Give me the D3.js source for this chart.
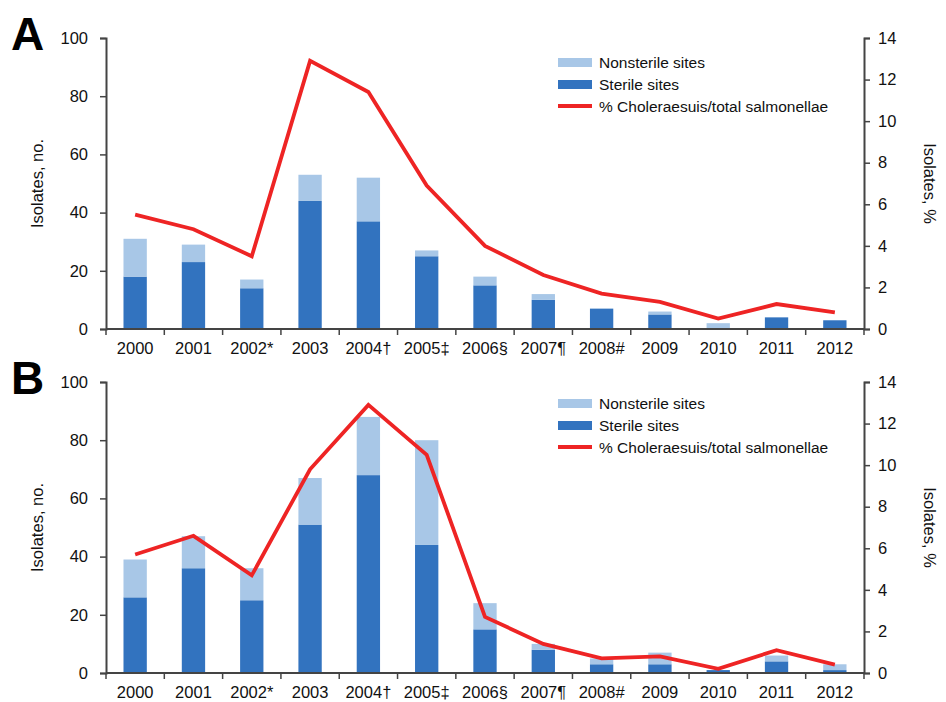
<!DOCTYPE html>
<html><head><meta charset="utf-8">
<script src="https://cdn.jsdelivr.net/npm/d3@7"></script>
<style>
body{margin:0;background:#fff;}
svg{display:block;font-family:"Liberation Sans",Arial,sans-serif;}
</style></head>
<body><svg id="c" width="946" height="702"></svg>
<script>
const categories = ["2000","2001","2002*","2003","2004\u2020","2005\u2021","2006\u00a7","2007\u00b6","2008#","2009","2010","2011","2012"];
const sterileA    = [18,23,14,44,37,25,15,10,7,5,0,4,3];
const nonsterileA = [13,6,3,9,15,2,3,2,0,1,2,0,0];
const pctA        = [5.5,4.8,3.5,12.9,11.4,6.9,4.0,2.6,1.7,1.3,0.5,1.2,0.8];
const sterileB    = [26,36,25,51,68,44,15,8,3,3,1,4,1];
const nonsterileB = [13,11,11,16,20,36,9,2,2,4,0,2,2];
const pctB        = [5.7,6.6,4.7,9.8,12.9,10.5,2.7,1.4,0.7,0.8,0.2,1.1,0.4];
const leftTicks  = [0,20,40,60,80,100];
const rightTicks = [0,2,4,6,8,10,12,14];
const legendLabels = ["Nonsterile sites","Sterile sites","% Choleraesuis/total salmonellae"];

const LIGHT = "#a8c7e7", DARK = "#3273bf", RED = "#ee2424", AX = "#444", TXT = "#111";
const svg = d3.select("#c");
const x = d3.scaleBand().domain(categories).range([106, 864]).padding(0);
const bw = x.bandwidth() * 0.4;

function panel(letter, top, bottom, sterile, nonsterile, pct, legTop, letterY) {
  const g = svg.append("g");
  const y = d3.scaleLinear().domain([0, 100]).range([bottom, top]);
  const y2 = d3.scaleLinear().domain([0, 14]).range([bottom, top]);

  categories.forEach((c, i) => {
    const cx = x(c) + x.bandwidth() / 2;
    if (sterile[i] > 0) g.append("rect").attr("x", cx - bw / 2).attr("width", bw)
      .attr("y", y(sterile[i])).attr("height", y(0) - y(sterile[i])).attr("fill", DARK);
    if (nonsterile[i] > 0) g.append("rect").attr("x", cx - bw / 2).attr("width", bw)
      .attr("y", y(sterile[i] + nonsterile[i])).attr("height", y(sterile[i]) - y(sterile[i] + nonsterile[i])).attr("fill", LIGHT);
  });

  const la = g.append("g").attr("transform", `translate(106,0)`)
    .call(d3.axisLeft(y).tickValues(leftTicks).tickSize(6).tickPadding(12));
  const ra = g.append("g").attr("transform", `translate(864,0)`)
    .call(d3.axisRight(y2).tickValues(rightTicks).tickSize(6).tickPadding(8));
  const ba = g.append("g").attr("transform", `translate(0,${bottom})`)
    .call(d3.axisBottom(x).tickSize(0).tickPadding(13));
  [la, ra, ba].forEach(a => {
    a.selectAll("path.domain").attr("stroke", AX).attr("stroke-width", 2);
    a.selectAll("line").attr("stroke", AX).attr("stroke-width", 1.5);
    a.selectAll("text").attr("fill", TXT).style("font-size", "16.5px");
  });
  ba.select("path.domain").remove();
  g.append("line").attr("x1", 106).attr("x2", 864).attr("y1", bottom).attr("y2", bottom)
    .attr("stroke", AX).attr("stroke-width", 2);
  const bounds = categories.map(c => x(c)).concat([x.range()[1]]);
  g.selectAll(".bt").data(bounds).enter().append("line")
    .attr("x1", d => d).attr("x2", d => d).attr("y1", bottom).attr("y2", bottom + 6)
    .attr("stroke", AX).attr("stroke-width", 1.5);

  const line = d3.line().x((d, i) => x(categories[i]) + x.bandwidth() / 2).y(d => y2(d));
  g.append("path").datum(pct).attr("d", line).attr("fill", "none")
    .attr("stroke", RED).attr("stroke-width", 3.8).attr("stroke-linejoin", "miter");

  const mid = (top + bottom) / 2;
  g.append("text").attr("transform", `translate(43,${mid}) rotate(-90)`)
    .attr("text-anchor", "middle").attr("fill", TXT).style("font-size", "16.5px").text("Isolates, no.");
  g.append("text").attr("transform", `translate(924,${mid}) rotate(90)`)
    .attr("text-anchor", "middle").attr("fill", TXT).style("font-size", "16.5px").text("Isolates, %");

  g.append("text").attr("x", 11).attr("y", letterY).attr("fill", "#000")
    .style("font-size", "46px").style("font-weight", "bold").text(letter);

  const lg = g.append("g").attr("transform", `translate(558,${legTop})`);
  lg.append("rect").attr("x", 0).attr("y", 0).attr("width", 34).attr("height", 9).attr("fill", LIGHT);
  lg.append("rect").attr("x", 0).attr("y", 22).attr("width", 34).attr("height", 9).attr("fill", DARK);
  lg.append("line").attr("x1", 0).attr("x2", 34).attr("y1", 48).attr("y2", 48)
    .attr("stroke", RED).attr("stroke-width", 4);
  legendLabels.forEach((t, i) => {
    lg.append("text").attr("x", 41).attr("y", 10 + i * 22).attr("fill", TXT)
      .style("font-size", "15.5px").text(t);
  });
}

panel("A", 38, 329, sterileA, nonsterileA, pctA, 58, 50);
panel("B", 382, 673, sterileB, nonsterileB, pctB, 399, 394);
</script></body></html>
